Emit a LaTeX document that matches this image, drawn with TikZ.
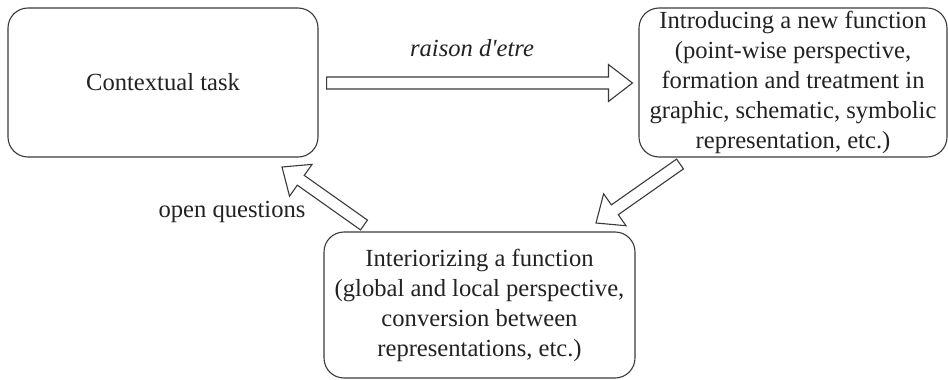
\documentclass[tikz,border=0pt]{standalone}
\usepackage{fontspec}
\setmainfont{Liberation Serif}
\usetikzlibrary{calc}
\definecolor{linec}{HTML}{3A3A3A}
\definecolor{textc}{HTML}{222222}
\tikzset{
  stagebox/.style={draw=linec, line width=1.1pt, rounded corners=20pt, align=center,
    text=textc, font=\fontsize{24.6}{30}\selectfont, inner sep=0pt},
  blockarr/.style={draw=linec, line width=1.1pt, fill=white, line join=miter},
  lbl/.style={text=textc, font=\fontsize{24.6}{30}\selectfont, inner sep=0pt, anchor=base}
}
\newcommand{\myblockarrow}[5]{% tail, tip, half shaft, head length, head half width
  \coordinate (hb) at ($(#2)!#4!(#1)$);
  \draw[blockarr] ($(#1)!#3!-90:(#2)$) -- ($(hb)!#3!-90:(#2)$) -- ($(hb)!#5!-90:(#2)$)
    -- (#2) -- ($(hb)!#5!90:(#2)$) -- ($(hb)!#3!90:(#2)$) -- ($(#1)!#3!90:(#2)$) -- cycle;
}
\begin{document}
\begin{tikzpicture}[x=1pt,y=-1pt]
\useasboundingbox (0,0) rectangle (948,380);
\node[stagebox, minimum width=310pt, minimum height=149pt] (ctx) at (163,82.5) {Contextual task};
\node[stagebox, minimum width=308pt, minimum height=149pt] (intro) at (793,82.5)
  {Introducing a new function\\(point-wise perspective,\\formation and treatment in\\graphic, schematic, symbolic\\representation, etc.)};
\node[stagebox, minimum width=311pt, minimum height=146pt] (inter) at (479.5,305)
  {Interiorizing a function\\(global and local perspective,\\conversion between\\representations, etc.)};
% arrow coordinates
\coordinate (h1) at ($(ctx.east)+(8,0.5)$);
\coordinate (h2) at ($(intro.west)+(-6,0.5)$);
\coordinate (d1a) at (680,164);
\coordinate (d1b) at (596,223);
\coordinate (d2a) at (364,225);
\coordinate (d2b) at (282,167);
\myblockarrow{h1}{h2}{6pt}{24pt}{18.5pt}
\myblockarrow{d1a}{d1b}{6pt}{23pt}{19.5pt}
\myblockarrow{d2a}{d2b}{6pt}{23pt}{19.5pt}
\node[lbl] (raison) at (472,56) {\itshape raison d\textquotesingle etre};
\node[lbl] (openq) at (232,217) {open questions};
\end{tikzpicture}
\end{document}
